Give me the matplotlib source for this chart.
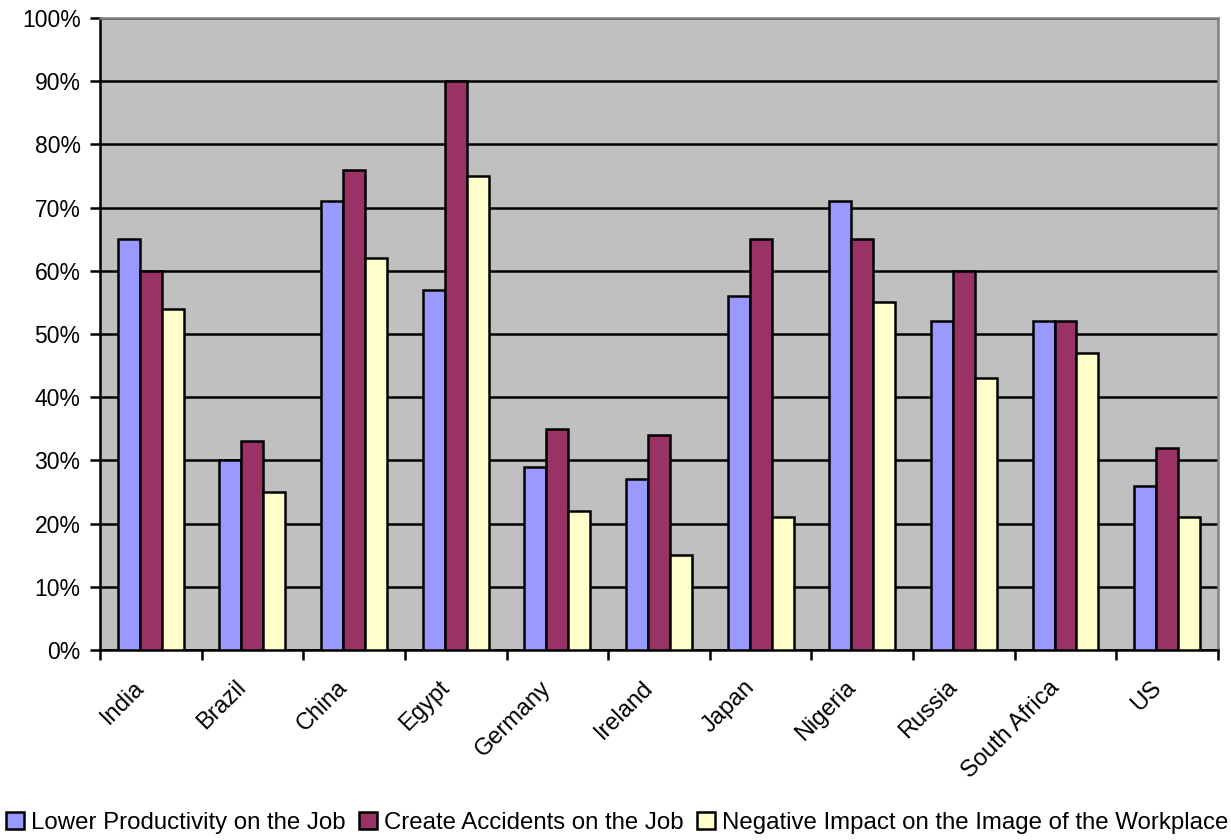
import numpy as np
import matplotlib.pyplot as plt
from matplotlib.ticker import MultipleLocator, PercentFormatter

plt.rcParams['font.family'] = ['Liberation Sans', 'DejaVu Sans']

countries = ['India', 'Brazil', 'China', 'Egypt', 'Germany', 'Ireland',
             'Japan', 'Nigeria', 'Russia', 'South Africa', 'US']
lower_productivity = [65, 30, 71, 57, 29, 27, 56, 71, 52, 52, 26]
create_accidents = [60, 33, 76, 90, 35, 34, 65, 65, 60, 52, 32]
negative_image = [54, 25, 62, 75, 22, 15, 21, 55, 43, 47, 21]

series = [('Lower Productivity on the Job', lower_productivity, '#9999FF'),
          ('Create Accidents on the Job', create_accidents, '#993366'),
          ('Negative Impact on the Image of the Workplace', negative_image, '#FFFFCC')]

fig = plt.figure(figsize=(12.31, 8.4), dpi=100)
ax = fig.add_axes([0.0812, 0.2262, 0.9082, 0.7524])
ax.set_facecolor('#C0C0C0')

x = np.arange(len(countries))
w = 0.216
for i, (name, vals, col) in enumerate(series):
    ax.bar(x + (i - 1) * w, vals, w, color=col, edgecolor='black',
           linewidth=1.8, label=name, zorder=3)

ax.set_ylim(0, 100)
ax.set_xlim(-0.5, len(countries) - 0.5)
ax.yaxis.set_major_locator(MultipleLocator(10))
ax.yaxis.set_major_formatter(PercentFormatter(decimals=0))
ax.grid(axis='y', color='black', linewidth=1.8, zorder=1)

# category boundaries carry the ticks; names hang just left of each group centre
ax.set_xticks(np.arange(len(countries) + 1) - 0.5)
ax.set_xticklabels([])
ax.set_xticks(x - 0.17, minor=True)
ax.set_xticklabels(countries, minor=True, rotation=45, ha='right', va='top',
                   rotation_mode='anchor', fontsize=17)
ax.tick_params(axis='x', which='minor', length=0, pad=19)
ax.tick_params(axis='x', which='major', length=7, width=1.8)
ax.tick_params(axis='y', length=7, width=1.8, labelsize=16.5, pad=7)

for s in ['left', 'bottom']:
    ax.spines[s].set_color('black')
    ax.spines[s].set_linewidth(1.8)
for s in ['top', 'right']:
    ax.spines[s].set_color('#808080')
    ax.spines[s].set_linewidth(1.8)

fig.legend(loc='lower left', bbox_to_anchor=(0.0, 0.0), ncol=3, frameon=False,
           fontsize=17.3, handlelength=0.75, handleheight=0.75,
           handletextpad=0.3, columnspacing=0.55, borderaxespad=0.1,
           borderpad=0.15)

fig.savefig('out.png', dpi=100)
